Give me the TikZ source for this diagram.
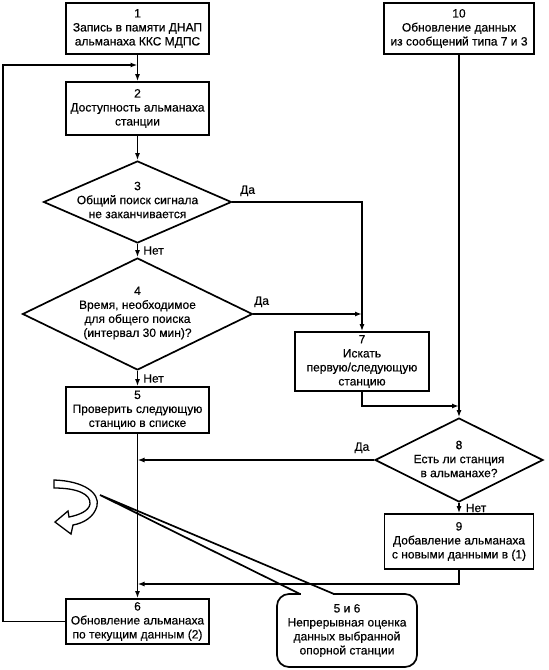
\documentclass[tikz,border=0pt]{standalone}
\usepackage{fontspec}
\setmainfont{Liberation Sans}
\newfontfamily\flowfont{Liberation Sans}[FakeBold=0.4]
\usetikzlibrary{positioning}
\usetikzlibrary{arrows.meta}
\usetikzlibrary{shapes}
\tikzset{
        flownode/.style={align=center,inner sep=0pt,font=\flowfont\fontsize{12}{14}\selectfont},
        % Process boxes
        node_box/.style={flownode, rectangle, draw=black, fill=white, line width=1.7pt},
        % Decision diamonds
        node_decision/.style={flownode, diamond, draw=black, line width=1.7pt},
        % Text inside decisions
        node_decision_text/.style={flownode},
        % Yes / no labels
        node_branch/.style={inner sep=0pt, font=\flowfont\fontsize{12}{14}\selectfont},
        % Comment box
        node_note/.style={flownode, rectangle, rounded corners=12pt, draw=black, line width=1.7pt}
}
\begin{document}
\begin{tikzpicture}[
            x=1pt, y=-1pt,
            >={Latex[length=7pt,width=5pt]},
            line width=1.7pt
        ]
            \useasboundingbox (0,0) rectangle (549,670);
            % left column
            \node[node_box, minimum width=143pt, minimum height=51pt] (box1) at (137.5,28.5) {1\\Запись в памяти ДНАП\\альманаха ККС МДПС};
            \node[node_box, minimum width=143pt, minimum height=53pt] (box2) at (137.5,108.5) {2\\Доступность альманаха\\станции};
            \node[node_decision, minimum width=188pt, minimum height=82pt] (dec3) at (137.5,202) {};
            \node[node_decision_text] (dec3_text) at (137.5,200) {3\\Общий поиск сигнала\\не заканчивается};
            \node[node_decision, minimum width=230pt, minimum height=112pt] (dec4) at (137.5,314) {};
            \node[node_decision_text] (dec4_text) at (137.5,313) {4\\Время, необходимое\\для общего поиска\\(интервал 30 мин)?};
            \node[node_box, minimum width=143pt, minimum height=46pt] (box5) at (137.5,410) {5\\Проверить следующую\\станцию в списке};
            \node[node_box, minimum width=143pt, minimum height=45pt] (box6) at (137.5,621.5) {6\\Обновление альманаха\\по текущим данным (2)};
            % right column
            \node[node_box, minimum width=134pt, minimum height=59pt] (box7) at (362,361.5) {7\\Искать\\первую/следующую\\станцию};
            \node[node_box, minimum width=150pt, minimum height=51pt] (box10) at (459,28.5) {10\\Обновление данных\\из сообщений типа 7 и 3};
            \node[node_decision, minimum width=168pt, minimum height=84pt] (dec8) at (459,460) {};
            \node[node_decision_text] (dec8_text) at (459,459) {8\\Есть ли станция\\в альманахе?};
            \node[node_box, minimum width=149pt, minimum height=55pt] (box9) at (459,541.5) {9\\Добавление альманаха\\с новыми данными в (1)};
            \node[node_note, minimum width=140pt, minimum height=73pt] (note56) at (347,630.5) {5 и 6\\Непрерывная оценка\\данных выбранной\\опорной станции};

            % junctions
            \coordinate (loop_corner) at (3,65);
            \coordinate (join_loop) at (137.5,65);
            \coordinate (join_yes4) at (362,314);
            \coordinate (join_seven) at (459,406);
            \coordinate (join_yes8) at (137.5,460);
            \coordinate (join_nine) at (137.5,584);

            % flow
            \draw[->] (box1) -- (box2);
            \draw[->] (box2) -- (dec3);
            \draw[->] (dec3) -- node[node_branch, right=5pt] (no3) {Нет} (dec4);
            \draw[->] (dec4) -- node[node_branch, right=5pt] (no4) {Нет} (box5);
            \draw[->] (box5) -- (box6);
            \draw[->] (dec3.east) -| (box7.north);
            \draw[->] (dec4.east) -- (join_yes4);
            \draw[->] (box7.south) |- (join_seven);
            \draw[->] (box10) -- (dec8);
            \draw[->] (dec8) -- node[node_branch, right=6pt] (no8) {Нет} (box9);
            \draw[->] (dec8.west) -- (join_yes8);
            \draw[->] (box9.south) |- (join_nine);
            \draw[->] (box6.west) -| (loop_corner) -- (join_loop);

            \node[node_branch, above right=5pt and 7pt of dec3.east] (yes3) {Да};
            \node[node_branch, above right=6pt and 0pt of dec4.east] (yes4) {Да};
            \node[node_branch, above left=6pt and 4pt of dec8.west] (yes8) {Да};

            % pointer of the note
            \coordinate (ptr_tip) at (100,495);
            \coordinate (ptr_a) at (300,594);
            \coordinate (ptr_b) at (334,594);
            \draw[white, line width=2.6pt] ([xshift=1pt]ptr_a) -- ([xshift=-1pt]ptr_b);
            \draw[line join=miter] (ptr_a) -- (ptr_tip) -- (ptr_b);

            % turning arrow sign
            \draw[line width=1.3pt, fill=white] (54,480) .. controls (84,481) and (100,493) .. (97,506)
                .. controls (94,517) and (84,523) .. (73,525) -- (71,534) -- (55,522) -- (68,511) -- (69,517)
                .. controls (79,515) and (89,511) .. (90,504) .. controls (91,494) and (77,488) .. (54,488) -- cycle;
        \end{tikzpicture}
\end{document}
